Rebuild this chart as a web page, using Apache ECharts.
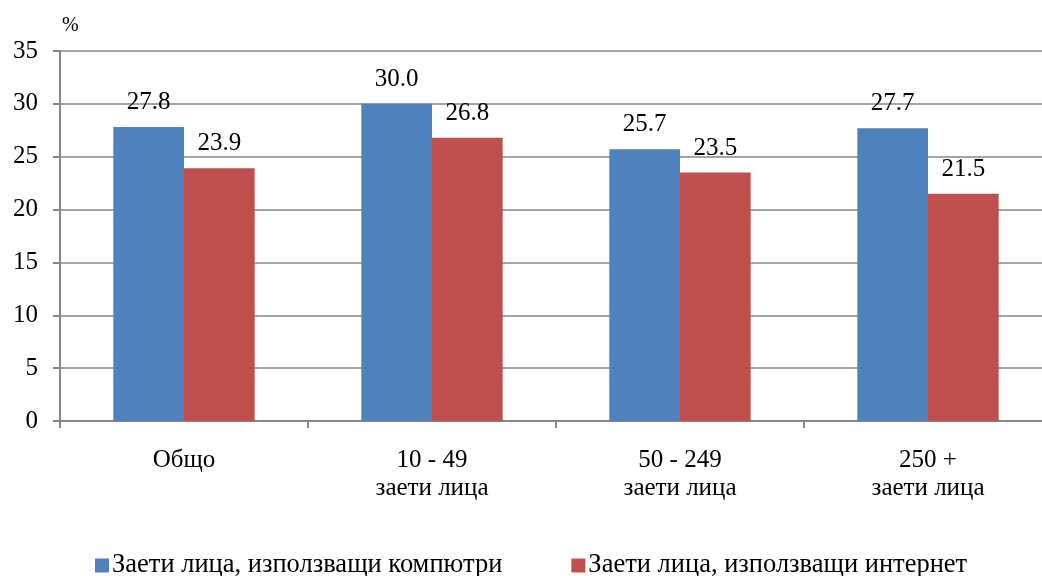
<!DOCTYPE html>
<html lang="bg">
<head>
    <meta charset="UTF-8">
    <title>Заети лица</title>
    <script src="https://cdn.jsdelivr.net/npm/echarts@6/dist/echarts.min.js"></script>
    <style>
        html, body { margin: 0; padding: 0; background: #fff; }
        #main { width: 1042px; height: 576px; }
    </style>
</head>
<body>
<div id="main"></div>
<script type="text/javascript">
    // данни
    var categories = ['Общо', '10 - 49\nзаети лица', '50 - 249\nзаети лица', '250 +\nзаети лица'];
    var seriesNames = ['Заети лица, използващи компютри', 'Заети лица, използващи интернет'];
    var computers = [27.8, 30.0, 25.7, 27.7];
    var internet = [23.9, 26.8, 23.5, 21.5];
    var yTicks = [0, 5, 10, 15, 20, 25, 30, 35];

    var font = '"Liberation Serif", "Times New Roman", serif';
    var myChart = echarts.init(document.getElementById('main'));

    var labelOpt = {
        show: true,
        position: 'top',
        distance: 12,
        color: '#000',
        fontFamily: font,
        fontSize: 25,
        formatter: function (p) { return p.value.toFixed(1); }
    };

    myChart.setOption({
        animation: false,
        textStyle: { fontFamily: font },
        graphic: [{
            type: 'text',
            left: 62,
            top: 16,
            style: { text: '%', fontFamily: font, fontSize: 20, fill: '#000' }
        }],
        legend: {
            top: 552,
            left: 95,
            padding: 0,
            itemWidth: 14,
            itemHeight: 14,
            itemGap: 69,
            icon: 'rect',
            textStyle: { fontFamily: font, fontSize: 26.5, color: '#000', padding: [0, 0, 0, -2] },
            data: seriesNames
        },
        grid: { left: 60, width: 992, top: 51, height: 370, containLabel: false, outerBoundsMode: 'none' },
        xAxis: {
            type: 'category',
            data: categories,
            axisLine: { lineStyle: { color: '#868686', width: 2 } },
            axisTick: { show: true, length: 7, lineStyle: { color: '#868686', width: 2 } },
            axisLabel: {
                color: '#000', fontFamily: font, fontSize: 25, lineHeight: 28, margin: 25
            }
        },
        yAxis: {
            type: 'value',
            min: yTicks[0],
            max: yTicks[yTicks.length - 1],
            interval: 5,
            axisLine: { show: true, lineStyle: { color: '#868686', width: 2 } },
            axisTick: { show: true, length: 7, lineStyle: { color: '#868686', width: 2 } },
            splitLine: { lineStyle: { color: '#868686', width: 1.5 } },
            axisLabel: { color: '#000', fontFamily: font, fontSize: 25, margin: 22 }
        },
        series: [{
            name: seriesNames[0],
            type: 'bar',
            data: computers,
            barGap: '0%',
            barCategoryGap: '43%',
            itemStyle: { color: '#4F81BD' },
            label: labelOpt
        }, {
            name: seriesNames[1],
            type: 'bar',
            data: internet,
            itemStyle: { color: '#C0504D' },
            label: labelOpt
        }]
    });
</script>
</body>
</html>
